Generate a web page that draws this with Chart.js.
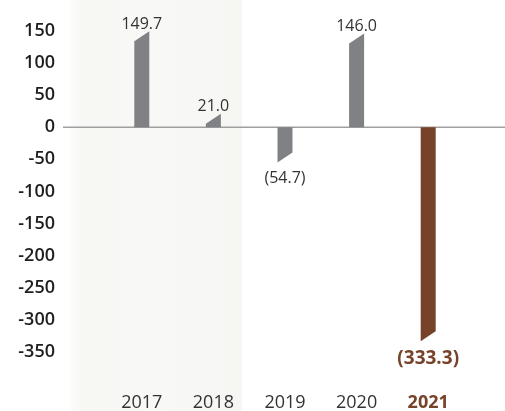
<!DOCTYPE html>
<html>
<head>
<meta charset="utf-8">
<script src="https://cdn.jsdelivr.net/npm/chart.js@4"></script>
<style>
html,body{margin:0;padding:0;background:#fff;}
#wrap{width:505px;height:411px;position:relative;}
</style>
</head>
<body>
<div id="wrap"><canvas id="c"></canvas></div>
<script>
const categories = ['2017', '2018', '2019', '2020', '2021'];
const values = [149.7, 21.0, -54.7, 146.0, -333.3];
const valueLabels = ['149.7', '21.0', '(54.7)', '146.0', '(333.3)'];
const yTickMin = -400;
const yTickMax = 150;

const GRAY = '#808184';
const BROWN = '#76432a';
const barColors = values.map((v, i) => i === 4 ? BROWN : GRAY);

const bgPlugin = {
  id: 'bg',
  beforeDraw(chart) {
    const ctx = chart.ctx;
    ctx.save();
    ctx.fillStyle = '#fff';
    ctx.fillRect(0, 0, chart.width, chart.height);
    const g = ctx.createLinearGradient(70, 0, 242, 0);
    g.addColorStop(0, 'rgba(247,247,244,0.3)');
    g.addColorStop(0.08, 'rgba(247,247,244,1)');
    g.addColorStop(0.5, 'rgba(248,248,246,1)');
    g.addColorStop(1, 'rgba(246,246,243,1)');
    ctx.fillStyle = g;
    ctx.fillRect(70, 0, 172, chart.height);
    ctx.restore();
  }
};

const zeroPlugin = {
  id: 'zero',
  beforeDatasetsDraw(chart) {
    const ctx = chart.ctx;
    const y = chart.scales.y.getPixelForValue(0);
    ctx.save();
    ctx.strokeStyle = '#a0a0a0';
    ctx.lineWidth = 1.5;
    ctx.beginPath();
    ctx.moveTo(63, y);
    ctx.lineTo(chart.width, y);
    ctx.stroke();
    ctx.restore();
  }
};

const slantPlugin = {
  id: 'slant',
  afterDatasetsDraw(chart) {
    const ctx = chart.ctx;
    const meta = chart.getDatasetMeta(0);
    const cut = 10;
    ctx.save();
    meta.data.forEach((bar, i) => {
      const half = bar.width / 2;
      const l = bar.x - half, r = bar.x + half;
      const tip = bar.y, base = bar.base;
      ctx.fillStyle = barColors[i];
      ctx.beginPath();
      if (values[i] >= 0) {
        ctx.moveTo(l, base);
        ctx.lineTo(r, base);
        ctx.lineTo(r, tip);
        ctx.lineTo(l, Math.min(base, tip + cut));
      } else {
        ctx.moveTo(l, base);
        ctx.lineTo(r, base);
        ctx.lineTo(r, Math.max(base, tip - cut));
        ctx.lineTo(l, tip);
      }
      ctx.closePath();
      ctx.fill();
      if (i === 4) {
        ctx.font = 'bold 19px "Open Sans"';
        ctx.fillStyle = BROWN;
      } else {
        ctx.font = '16px "Open Sans"';
        ctx.fillStyle = '#333';
      }
      ctx.textAlign = 'center';
      if (values[i] >= 0) {
        ctx.textBaseline = 'bottom';
        ctx.fillText(valueLabels[i], bar.x, tip + 1);
      } else {
        ctx.textBaseline = 'top';
        ctx.fillText(valueLabels[i], bar.x, tip + 8);
      }
    });
    ctx.restore();
  }
};

new Chart(document.getElementById('c'), {
  type: 'bar',
  data: {
    labels: categories,
    datasets: [{
      data: values,
      backgroundColor: 'rgba(0,0,0,0)',
      barThickness: 15
    }]
  },
  options: {
    responsive: true,
    maintainAspectRatio: false,
    animation: false,
    layout: { padding: { top: 31, right: 41, left: 0, bottom: 0 } },
    plugins: { legend: { display: false }, tooltip: { enabled: false } },
    scales: {
      x: {
        grid: { display: false, drawTicks: false },
        border: { display: false },
        afterFit(s) { s.height = 27; },
        ticks: {
          padding: 8,
          color: ctx => ctx.index === 4 ? BROWN : '#333',
          font: ctx => ctx.index === 4
            ? { family: 'Open Sans', size: 18, weight: 'bold' }
            : { family: 'Open Sans', size: 18 }
        }
      },
      y: {
        min: yTickMin,
        max: yTickMax,
        grid: { display: false, drawTicks: false },
        border: { display: false },
        afterFit(s) { s.width = 106; s.paddingTop = 0; s.paddingBottom = 0; },
        ticks: {
          stepSize: 50,
          padding: 51,
          color: '#1e1e1e',
          font: { family: 'Open Sans', size: 18, weight: '600' },
          callback: v => v === yTickMin ? '' : String(v)
        }
      }
    }
  },
  plugins: [bgPlugin, zeroPlugin, slantPlugin]
});
</script>
</body>
</html>
